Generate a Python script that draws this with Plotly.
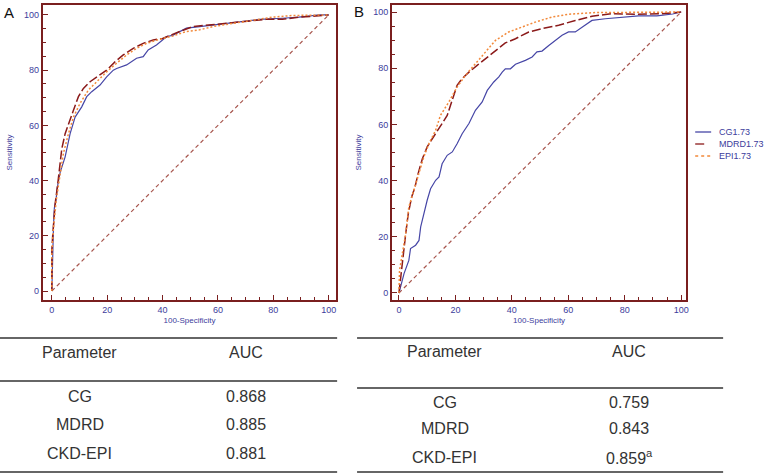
import plotly.graph_objects as go

# ---------------- data ----------------
# Panel A
a_cg_x = [0, 0.3, 0.6, 0.9, 1.5, 2.0, 3.0, 4.8, 6.6, 8.4, 10.8, 12.6, 14.4, 17.4, 19.8, 22.2, 23.4, 27.0, 30.6, 33.0, 34.8, 37.8, 40.0, 41.4, 43.8, 46.2, 48.6, 53.4, 58.2, 63.0, 67.7, 75.0, 83.3, 89.3, 96.5, 100]
a_cg_y = [0, 15, 24, 30, 33, 37.7, 43, 48.6, 57, 63, 66.7, 70.4, 72.2, 74.6, 77.6, 80, 80.6, 81.9, 84.3, 84.9, 87.3, 89.1, 90.9, 92.1, 92.7, 94, 95.2, 95.8, 96.4, 97, 97.6, 98.4, 98.8, 99.2, 100, 100]
a_mdrd_x = [0, 0, 0.3, 1.2, 2.0, 2.8, 3.6, 4.8, 6.0, 7.8, 9.6, 11.4, 13.8, 16.2, 19.8, 22.8, 25.8, 29.4, 33.0, 36.6, 40.0, 46.2, 51.0, 59.4, 65.3, 72.5, 77.3, 83.3, 89.3, 95.3, 100]
a_mdrd_y = [0, 15, 20, 31.7, 37.7, 45, 51.6, 57, 60.7, 65.5, 70.4, 73.4, 75.8, 77.6, 80, 83, 85.5, 87.9, 89.7, 90.9, 91.5, 94, 95.8, 96.6, 97.2, 97.8, 98.4, 98.4, 99.2, 99.6, 100]
a_epi_x = [0, 0, 0.6, 1.6, 2.8, 4.2, 6.0, 7.8, 10.2, 13.2, 16.2, 19.8, 23.4, 27.0, 30.6, 34.2, 39.0, 43.8, 48.6, 53.4, 58.2, 65.3, 72.5, 79.7, 87.0, 95.3, 100]
a_epi_y = [0, 13.5, 23, 33, 41, 50, 57, 63, 68, 72.8, 75.8, 79.4, 82.5, 85.5, 87.9, 89.7, 91.2, 92.4, 94, 94.6, 95.8, 97, 98.2, 99.2, 99.8, 100, 100]

# Panel B
b_cg_x = [0, 0.6, 1.8, 3.5, 4.1, 5.9, 7.1, 7.7, 8.8, 10.0, 11.2, 13.0, 14.2, 15.3, 17.1, 18.9, 20.6, 22.4, 24.8, 27.1, 29.5, 31.3, 33.6, 35.4, 36.6, 37.7, 39.5, 41.3, 44.8, 47.2, 48.9, 50.7, 53.1, 55.4, 57.8, 60.1, 62.5, 65.4, 68.4, 73.1, 79.0, 84.9, 91.4, 97.0, 100]
b_cg_y = [0, 2.1, 6.9, 11.6, 15.8, 17, 18.7, 23.5, 28.2, 33, 37.1, 40.1, 41.3, 46, 49, 50.2, 53.1, 56.7, 60.3, 65, 68, 72.1, 75.1, 76.9, 78.6, 79.8, 79.8, 81.4, 82.8, 84, 85.8, 86.1, 88.1, 89.9, 91.7, 92.9, 92.9, 94.9, 97, 97.6, 98.2, 98.6, 98.6, 99.3, 100]
b_mdrd_x = [0, 0.6, 1.4, 2.4, 3.3, 4.5, 5.7, 6.8, 8.3, 10.0, 11.8, 13.6, 15.3, 17.1, 18.9, 20.6, 22.4, 24.8, 27.7, 30.7, 34.2, 37.7, 41.3, 46.0, 50.7, 56.6, 62.5, 68.4, 75.5, 83.7, 93.2, 100]
b_mdrd_y = [0, 5.7, 14, 21.1, 28.2, 34.2, 37.7, 42.5, 47.8, 52, 54.9, 57.9, 60.3, 63.2, 68.6, 73.9, 76.3, 78.6, 81, 83.4, 86.4, 89, 90.5, 92.9, 94.1, 95.3, 97, 98.5, 99.4, 99.2, 99.4, 100]
b_epi_x = [0, 0.2, 1.2, 2.4, 3.5, 5.3, 7.1, 8.8, 10.6, 13.0, 14.7, 17.7, 20.6, 23.6, 27.1, 30.7, 34.2, 38.9, 43.6, 48.3, 54.2, 60.1, 69.6, 100]
b_epi_y = [0, 8, 14, 21.1, 30.6, 36.5, 42.5, 48.4, 53.1, 57.9, 63.2, 68, 73.3, 77.5, 81.6, 85.8, 89.9, 92.9, 94.7, 96.4, 98.2, 99.2, 99.8, 100]

diag_x = [0, 100]
diag_y = [0, 100]

series_names = ["CG1.73", "MDRD1.73", "EPI1.73"]
tick_vals = [0, 20, 40, 60, 80, 100]

table_params = ["CG", "MDRD", "CKD-EPI"]
auc_a = ["0.868", "0.885", "0.881"]
auc_b = ["0.759", "0.843", "0.859<sup>a</sup>"]

# ---------------- styles ----------------
W, H = 773, 475
FRAME = "#7a1f1f"
BLUE = "#4646a6"
TXT_BLUE = "#3c3c9c"
RED = "#8b1a1a"
ORANGE = "#f2893a"
DIAG = "#a8574f"
FONT = "Liberation Sans, Arial, sans-serif"


def px(x):
    return x / W


def py(y):
    return 1 - y / H


fig = go.Figure()

styles = [dict(color=BLUE, width=1.2, dash="solid"),
          dict(color=RED, width=1.5, dash="9px,3px"),
          dict(color=ORANGE, width=1.5, dash="2px,2px")]

for xa, ya, series in [("x", "y", [(a_cg_x, a_cg_y), (a_mdrd_x, a_mdrd_y), (a_epi_x, a_epi_y)]),
                       ("x2", "y2", [(b_cg_x, b_cg_y), (b_mdrd_x, b_mdrd_y), (b_epi_x, b_epi_y)])]:
    fig.add_trace(go.Scatter(x=diag_x, y=diag_y, mode="lines", xaxis=xa, yaxis=ya,
                             line=dict(color=DIAG, width=1.2, dash="4px,3px"),
                             showlegend=False, hoverinfo="skip"))
    for (xs, ys), name, st in zip(series, series_names, styles):
        fig.add_trace(go.Scatter(x=xs, y=ys, mode="lines", name=name, xaxis=xa, yaxis=ya,
                                 line=st, showlegend=False))


def axis_common():
    return dict(showline=True, linecolor=FRAME, linewidth=2, mirror=True,
                showgrid=False, zeroline=False,
                ticks="inside", ticklen=5, tickwidth=1, tickcolor=FRAME,
                tickvals=tick_vals,
                minor=dict(ticks="inside", ticklen=3, tickwidth=1, tickcolor=FRAME, dtick=5, tick0=0),
                tickfont=dict(family=FONT, size=9, color=TXT_BLUE),
                fixedrange=True)


ydom = [py(300), py(5)]
fig.update_layout(
    width=W, height=H,
    margin=dict(l=0, r=0, t=0, b=0),
    paper_bgcolor="white", plot_bgcolor="white",
    font=dict(family=FONT),
    xaxis=dict(domain=[px(43), px(337)], range=[-3.24, 102.7], anchor="y",
               title=dict(text="100-Specificity", font=dict(family=FONT, size=8, color=TXT_BLUE), standoff=4),
               **axis_common()),
    yaxis=dict(domain=ydom, range=[-3.26, 103.6], anchor="x",
               title=dict(text="Sensitivity", font=dict(family=FONT, size=8, color=TXT_BLUE), standoff=10),
               **axis_common()),
    xaxis2=dict(domain=[px(393), px(688)], range=[-2.47, 101.8], anchor="y2",
                title=dict(text="100-Specificity", font=dict(family=FONT, size=8, color=TXT_BLUE), standoff=4),
                **axis_common()),
    yaxis2=dict(domain=ydom, range=[-2.5, 102.5], anchor="x2",
                title=dict(text="Sensitivity", font=dict(family=FONT, size=8, color=TXT_BLUE), standoff=10),
                **axis_common()),
    showlegend=False,
)

shapes = []
annotations = []

# panel letters
annotations.append(dict(text="A", x=px(9), y=py(12), xref="paper", yref="paper", showarrow=False,
                        font=dict(family=FONT, size=15, color="#111111"), xanchor="center", yanchor="middle"))
annotations.append(dict(text="B", x=px(360), y=py(11), xref="paper", yref="paper", showarrow=False,
                        font=dict(family=FONT, size=15, color="#111111"), xanchor="center", yanchor="middle"))

# legend (manual, beside panel B)
leg_y = [132, 144, 156]
leg_colors = [BLUE, RED, ORANGE]
leg_dash = ["solid", "dash", "dot"]
for name, yy, c, d in zip(series_names, leg_y, leg_colors, leg_dash):
    shapes.append(dict(type="line", xref="paper", yref="paper", x0=px(697), x1=px(713), y0=py(yy), y1=py(yy),
                       line=dict(color=c, width=1.3, dash=d)))
    annotations.append(dict(text=name, x=px(719), y=py(yy), xref="paper", yref="paper", showarrow=False,
                            xanchor="left", yanchor="middle", font=dict(family=FONT, size=9, color=TXT_BLUE)))

# tables
TCOL = "#333333"
tables = [
    dict(x0=0, x1=338, lines=[338, 381, 472], cols=[80, 247], head_y=352, rows_y=[396, 424, 453], auc=auc_a),
    dict(x0=358, x1=725, lines=[338, 388, 472], cols=[446, 631], head_y=351, rows_y=[402, 428, 457], auc=auc_b),
]
for t in tables:
    for ly in t["lines"]:
        shapes.append(dict(type="line", xref="paper", yref="paper", x0=px(t["x0"]), x1=px(t["x1"]),
                           y0=py(ly), y1=py(ly), line=dict(color=TCOL, width=1.5)))
    for txt, cx in zip(["Parameter", "AUC"], t["cols"]):
        annotations.append(dict(text=txt, x=px(cx), y=py(t["head_y"]), xref="paper", yref="paper",
                                showarrow=False, xanchor="center", yanchor="middle",
                                font=dict(family=FONT, size=16, color=TCOL)))
    for p, a, ry in zip(table_params, t["auc"], t["rows_y"]):
        annotations.append(dict(text=p, x=px(t["cols"][0]), y=py(ry), xref="paper", yref="paper",
                                showarrow=False, xanchor="center", yanchor="middle",
                                font=dict(family=FONT, size=16, color=TCOL)))
        annotations.append(dict(text=a, x=px(t["cols"][1]), y=py(ry), xref="paper", yref="paper",
                                showarrow=False, xanchor="center", yanchor="middle",
                                font=dict(family=FONT, size=16, color=TCOL)))

fig.update_layout(shapes=shapes, annotations=annotations)
fig.write_html("out.html",
               config={"displayModeBar": False},
               post_script="document.body.style.margin='0';document.body.style.padding='0';"
                           "document.documentElement.style.overflow='hidden';")
